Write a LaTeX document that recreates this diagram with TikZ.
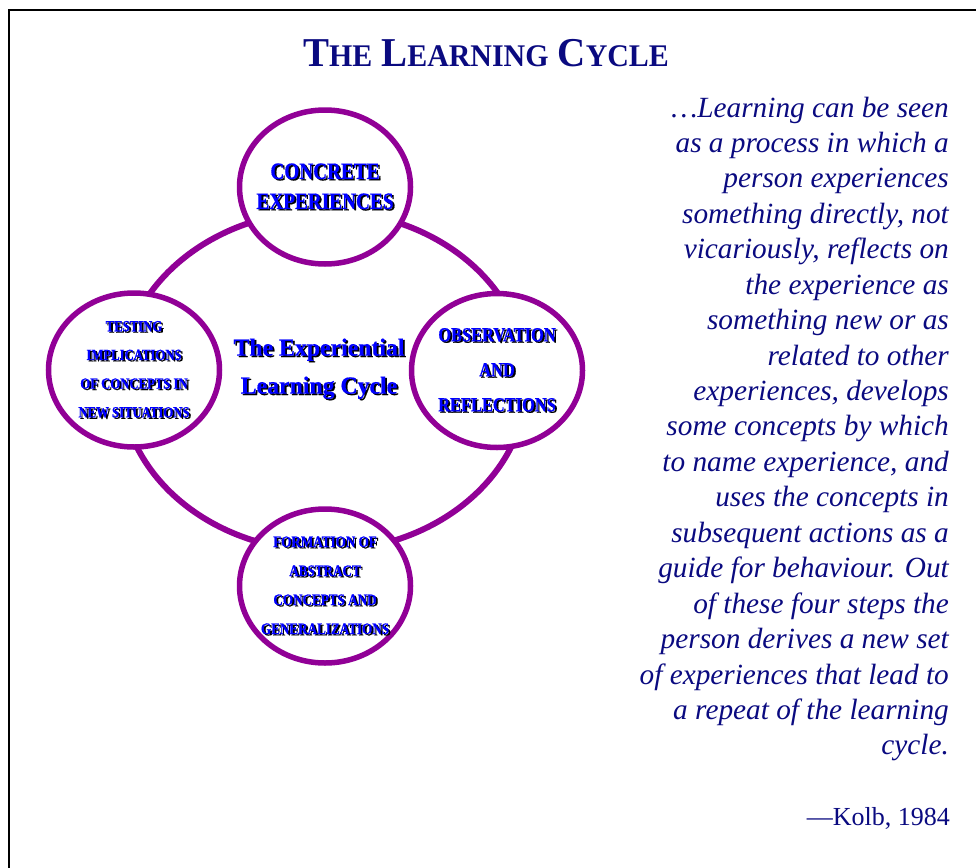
\documentclass[tikz,border=0pt]{standalone}
\usepackage{fontspec}
\setmainfont{Liberation Serif}
\newfontfamily\stagefont{Liberation Serif}[FakeStretch=0.82,FakeBold=0.6]
\newfontfamily\corefont{Liberation Serif}[FakeStretch=0.97,FakeBold=0.6]
\newfontfamily\titlefont{Liberation Serif}[FakeStretch=0.95]
\usetikzlibrary{shapes.geometric}
\definecolor{ringpurple}{RGB}{145,0,150}
\definecolor{navy}{RGB}{10,10,128}
\definecolor{stageblue}{RGB}{0,0,255}
\newcommand{\shd}[1]{\makebox[0pt][l]{\hspace*{1.8pt}\raisebox{-1.4pt}{\textcolor{black}{#1}}}\textcolor{stageblue}{#1}}
\newcommand{\tlbig}[1]{{\fontsize{41}{44}\selectfont #1}}
\newcommand{\tlsmall}[1]{{\fontsize{31.5}{34}\selectfont #1}}
\tikzset{
  frameline/.style={draw=black, line width=2.2pt},
  ring/.style={draw=ringpurple, line width=6pt},
  stage/.style={ellipse, draw=ringpurple, line width=5.5pt, fill=white,
    minimum width=171pt, minimum height=154pt, inner sep=0pt},
  stagetext/.style={inner sep=0pt, align=center},
  quoteline/.style={anchor=base east, inner sep=0pt, text=navy,
    font=\itshape\fontsize{29.3}{35}\selectfont},
}
\begin{document}
\begin{tikzpicture}[x=1pt,y=-1pt]
\useasboundingbox (0,0) rectangle (976,867);
\draw[frameline] (9,875) -- (9,10) -- (985,10);

\node[text=navy, font=\titlefont\bfseries, inner sep=0pt] (title) at (486,53)
  {\tlbig{T}\tlsmall{HE}\hspace{9pt}\tlbig{L}\tlsmall{EARNING}\hspace{9pt}\tlbig{C}\tlsmall{YCLE}};

% ring of the cycle
\node[stagetext, font=\corefont\bfseries\fontsize{24.5}{38}\selectfont] (core) at (319,369.5)
  {\shd{The Experiential}\\\shd{Learning Cycle}};
\draw[ring] (core.center) ++(5,11.5) ellipse [x radius=203pt, y radius=170pt];

\node[stage] (concrete) at (325,187) {};
\node[stagetext, font={\stagefont\bfseries\fontsize{23.5}{30}\selectfont}] (concrete text) at (concrete)
  {\shd{CONCRETE}\\\shd{EXPERIENCES}};
\node[stage] (observation) at (497,370.5) {};
\node[stagetext, font={\stagefont\bfseries\fontsize{20}{35}\selectfont}] (observation text) at (observation)
  {\shd{OBSERVATION}\\\shd{AND}\\\shd{REFLECTIONS}};
\node[stage] (formation) at (325,586) {};
\node[stagetext, font={\stagefont\bfseries\fontsize{16}{29}\selectfont}] (formation text) at (formation)
  {\shd{FORMATION OF}\\\shd{ABSTRACT}\\\shd{CONCEPTS AND}\\\shd{GENERALIZATIONS}};
\node[stage] (testing) at (134,370) {};
\node[stagetext, font={\stagefont\bfseries\fontsize{15.5}{28.7}\selectfont}] (testing text) at (testing)
  {\shd{TESTING}\\\shd{IMPLICATIONS}\\\shd{OF CONCEPTS IN}\\\shd{NEW SITUATIONS}};

% quotation
\foreach \t [count=\i] in {
  {…Learning can be seen},
  {as a process in which a},
  {person experiences},
  {something directly, not},
  {vicariously, reflects on},
  {the experience as},
  {something new or as},
  {related to other},
  {experiences, develops},
  {some concepts by which},
  {to name experience, and},
  {uses the concepts in},
  {subsequent actions as a},
  {guide for behaviour. Out},
  {of these four steps the},
  {person derives a new set},
  {of experiences that lead to},
  {a repeat of the learning},
  {cycle.}}
  \node[quoteline] (q\i) at (949,{117+35.44*(\i-1)}) {\t};

\node[anchor=base east, inner sep=0pt, text=navy, font=\fontsize{26}{30}\selectfont] (kolb) at (950,825) {—Kolb, 1984};
\end{tikzpicture}
\end{document}
